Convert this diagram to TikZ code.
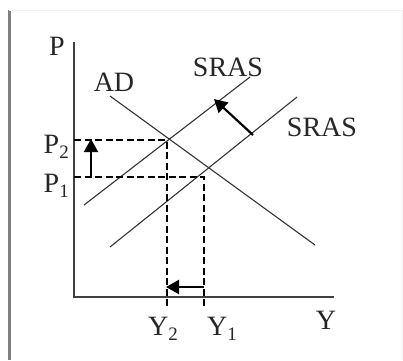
\documentclass[tikz,border=0pt]{standalone}
\usepackage{fontspec}
\setmainfont{Liberation Serif}
\usetikzlibrary{arrows.meta,positioning}
\newcommand{\lowidx}[1]{\raisebox{-0.4ex}{\fontsize{19}{19}\selectfont #1}}
\begin{document}
\begin{tikzpicture}[x=1pt,y=-1pt,
  axis/.style={draw=black!75,line width=1.6pt},
  curve/.style={draw=black!80,line width=1.1pt},
  guide/.style={draw=black,line width=2.2pt,dash pattern=on 7pt off 3.5pt},
  move/.style={draw=black,line width=2.2pt,-{Triangle[length=13pt,width=14pt]}},
  lbl/.style={font=\fontsize{28}{28}\selectfont,inner sep=0pt,text=black!85}
]
  \useasboundingbox (0,0) rectangle (403,360);
  % frame
  \draw[black!50,line width=3pt] (9,10) -- (9,360);
  \draw[black!5,line width=1pt] (9,10) -- (402,10) -- (402,360);
  % axes
  \coordinate (o) at (74,297);
  \coordinate (ptop) at (74,42);
  \coordinate (yend) at (334,297);
  \draw[axis] (ptop) -- (o) -- (yend);
  \node[lbl] (plab) at (57,46) {P};
  \node[lbl,anchor=base] (ylab) at (326,329) {Y};
  % curves
  \coordinate (ad1) at (110,96);
  \coordinate (ad2) at (315,245);
  \coordinate (sa1) at (84,205);
  \coordinate (sa2) at (250,77);
  \coordinate (sb1) at (110,247);
  \coordinate (sb2) at (297,97);
  \draw[curve] (ad1) -- (ad2);
  \draw[curve] (sa1) -- (sa2);
  \draw[curve] (sb1) -- (sb2);
  \node[lbl] (adlab) at (114,82) {AD};
  \node[lbl] (srasa) at (228,67) {SRAS};
  \node[lbl] (srasb) at (322,127) {SRAS};
  % equilibrium guides
  \coordinate (e2) at (167,140);
  \coordinate (e1) at (204,177);
  \coordinate (p2) at (74,140);
  \coordinate (p1) at (74,177);
  \coordinate (y2) at (167,308);
  \coordinate (y1) at (204,308);
  \draw[guide] (p2) -- (e2) -- (y2);
  \draw[guide] (p1) -- (e1) -- (y1);
  \node[lbl,anchor=base east] (p2lab) at (69,153) {P\lowidx{2}};
  \node[lbl,anchor=base east] (p1lab) at (69,192) {P\lowidx{1}};
  \node[lbl,anchor=base west] (y2lab) at (148,335) {Y\lowidx{2}};
  \node[lbl,anchor=base west] (y1lab) at (207,335) {Y\lowidx{1}};
  % shifts
  \coordinate (pa) at (91,177);
  \coordinate (pb) at (91,139);
  \coordinate (sfrom) at (253,135);
  \coordinate (sto) at (214,99);
  \coordinate (ya) at (204,287);
  \coordinate (yb) at (166,287);
  \draw[move] (pa) -- (pb);
  \draw[move] (sfrom) -- (sto);
  \draw[move] (ya) -- (yb);
\end{tikzpicture}
\end{document}
